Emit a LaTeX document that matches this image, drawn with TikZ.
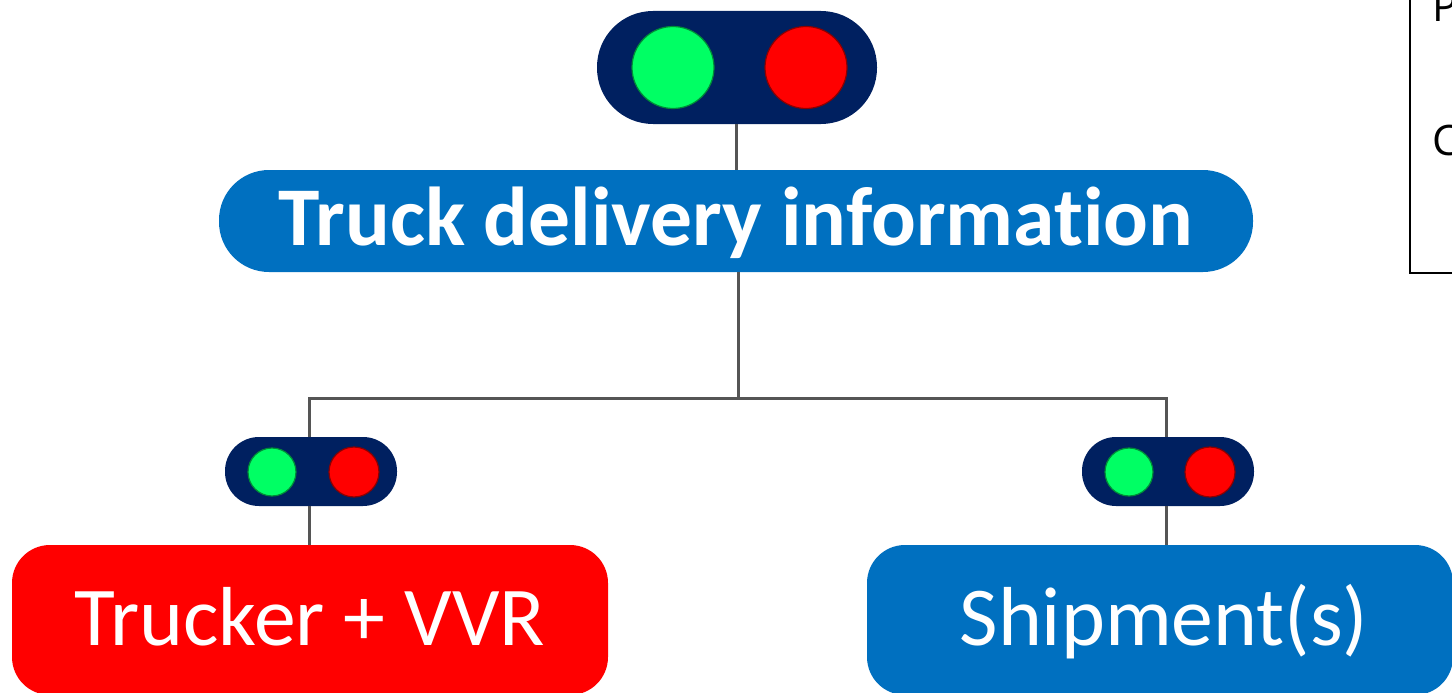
\documentclass[tikz,border=0pt]{standalone}
\usepackage{fontspec}
\setmainfont[Ligatures=NoCommon]{Carlito}
\newfontfamily\notefont{Open Sans}
\definecolor{navy}{HTML}{002060}
\definecolor{blu}{HTML}{0070C0}
\definecolor{grn}{HTML}{00FF64}
\definecolor{lin}{HTML}{555555}
\tikzset{
 x=1pt,y=-1pt,
 pill/.style={draw=none,fill=navy,inner sep=0pt},
 bigpill/.style={pill,minimum width=280pt,minimum height=113pt,rounded corners=56pt},
 smallpill/.style={pill,minimum width=172pt,minimum height=69pt,rounded corners=34pt},
 lamp/.style={circle,draw=#1!55!black,line width=1.2pt,inner sep=0pt},
 bigbar/.style={fill=blu,text=white,inner sep=0pt,minimum width=1034pt,minimum height=102pt,rounded corners=50pt,text height=60pt,text depth=12pt,font=\fontsize{83.5}{84}\selectfont\bfseries},
 leaf/.style={fill=#1,text=white,inner sep=0pt,minimum width=596pt,minimum height=150pt,rounded corners=38pt,text height=60pt,text depth=10pt,font=\fontsize{83.7}{84}\selectfont},
 wire/.style={draw=lin,line width=3pt},
 notetext/.style={anchor=west,inner sep=0pt,text=black,font=\notefont\fontsize{42}{42}\selectfont},
}
\begin{document}
\begin{tikzpicture}
\useasboundingbox (0,0) rectangle (1452,693);
\clip (0,0) rectangle (1452,693);
\fill[white] (0,0) rectangle (1452,693);
% connector anchors
\coordinate (bus) at (738,398);
\coordinate (tx) at (736,0);
\coordinate (lx) at (309,0);
\coordinate (rx) at (1166.5,0);
% nodes
\node[bigpill] (top) at (737,67.5) {};
\node[lamp=grn,fill=grn,minimum size=82pt] (topg) at (673,67.5) {};
\node[lamp=red,fill=red,minimum size=82pt] (topr) at (806,67.5) {};
\node[bigbar] (truck) at (736,221) {Truck delivery information};
\node[smallpill] (lp) at (311,471.5) {};
\node[lamp=grn,fill=grn,minimum size=48pt] (lg) at (272,472) {};
\node[lamp=red,fill=red,minimum size=50pt] (lr) at (354,472) {};
\node[smallpill] (rp) at (1168,471.5) {};
\node[lamp=grn,fill=grn,minimum size=48pt] (rg) at (1129,472) {};
\node[lamp=red,fill=red,minimum size=50pt] (rr) at (1210,472) {};
\node[leaf=red] (tv) at (310,620) {Trucker + VVR};
\node[leaf=blu,minimum width=586pt] (sh) at (1160,620) {\hspace*{8pt}Shipment(s)};
% connectors
\draw[wire] (top.south -| tx) -- (truck.north -| tx);
\draw[wire] (truck.south -| bus) -- (bus);
\draw[wire] (lp.north -| lx) |- (bus);
\draw[wire] (rp.north -| rx) |- (bus);
\draw[wire] (lp.south -| lx) -- (tv.north -| lx);
\draw[wire] (rp.south -| rx) -- (sh.north -| rx);
% inset, running off the picture
\node[draw=black,line width=2pt,minimum width=100pt,minimum height=300pt,inner sep=0pt] (inset) at (1460,122.5) {};
\node[notetext] (np) at (1432,7) {P};
\node[notetext] (nc) at (1432,140) {C};
\end{tikzpicture}
\end{document}
